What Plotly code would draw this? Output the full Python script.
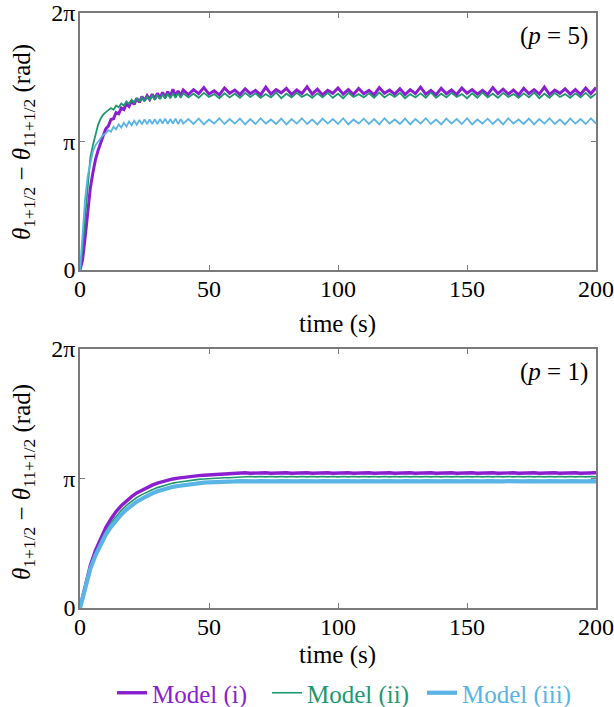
import plotly.graph_objects as go
import math

PI = math.pi

# ---------------- data: top panel (p = 5) ----------------
TIME_TOP = [0, 1, 2, 3, 4, 5, 6, 7, 8, 9, 10, 11, 12, 13, 14, 15, 16, 17, 18, 19, 20,
            21, 22, 23, 24, 25, 26, 27, 28, 29, 30, 31, 32, 33, 34, 35, 36, 37, 38, 39, 40,
            42, 44, 46, 48, 50, 52, 54, 56, 58, 60, 62, 64, 66, 68, 70, 72, 74, 76, 78, 80,
            82, 84, 86, 88, 90, 92, 94, 96, 98, 100, 102, 104, 106, 108, 110, 112, 114, 116, 118, 120,
            122, 124, 126, 128, 130, 132, 134, 136, 138, 140, 142, 144, 146, 148, 150, 152, 154, 156, 158, 160,
            162, 164, 166, 168, 170, 172, 174, 176, 178, 180, 182, 184, 186, 188, 190, 192, 194, 196, 198, 200]

TOP_MODEL_I = [0.00, 0.25, 0.80, 1.45, 2.00, 2.38, 2.70, 2.92, 3.12, 3.28, 3.45,
               3.52, 3.68, 3.70, 3.85, 3.82, 3.96, 3.92, 4.06, 4.00, 4.14,
               4.05, 4.20, 4.10, 4.24, 4.14, 4.26, 4.17, 4.30, 4.18, 4.32,
               4.20, 4.34, 4.22, 4.36, 4.24, 4.42, 4.25, 4.38, 4.26, 4.40,
               4.29, 4.41, 4.31, 4.46, 4.30, 4.38, 4.28, 4.45, 4.32, 4.40,
               4.29, 4.43, 4.31, 4.39, 4.28, 4.47, 4.30, 4.41, 4.33, 4.44,
               4.29, 4.40, 4.31, 4.48, 4.30, 4.42, 4.28, 4.39, 4.32, 4.45,
               4.30, 4.41, 4.29, 4.44, 4.31, 4.39, 4.28, 4.46, 4.32, 4.40,
               4.30, 4.43, 4.29, 4.41, 4.31, 4.47, 4.30, 4.39, 4.28, 4.44,
               4.31, 4.40, 4.29, 4.45, 4.32, 4.41, 4.30, 4.39, 4.29, 4.46,
               4.31, 4.42, 4.30, 4.40, 4.28, 4.44, 4.31, 4.41, 4.30, 4.47,
               4.29, 4.40, 4.32, 4.43, 4.30, 4.41, 4.29, 4.45, 4.31, 4.46]

TOP_MODEL_II = [0.00, 0.55, 1.30, 2.05, 2.75, 3.05, 3.30, 3.55, 3.70, 3.80, 3.86,
                3.90, 3.96, 3.92, 4.02, 3.98, 4.07, 4.02, 4.12, 4.06, 4.16,
                4.09, 4.19, 4.12, 4.22, 4.14, 4.24, 4.16, 4.26, 4.17, 4.28,
                4.18, 4.30, 4.19, 4.31, 4.20, 4.32, 4.21, 4.33, 4.21, 4.32,
                4.22, 4.31, 4.21, 4.33, 4.23, 4.30, 4.20, 4.32, 4.22, 4.31,
                4.21, 4.33, 4.23, 4.32, 4.21, 4.30, 4.22, 4.34, 4.20, 4.31,
                4.22, 4.33, 4.23, 4.30, 4.21, 4.32, 4.22, 4.33, 4.21, 4.31,
                4.20, 4.33, 4.23, 4.30, 4.22, 4.32, 4.21, 4.34, 4.22, 4.31,
                4.23, 4.33, 4.20, 4.30, 4.22, 4.32, 4.21, 4.34, 4.21, 4.31,
                4.22, 4.33, 4.23, 4.30, 4.20, 4.32, 4.21, 4.34, 4.22, 4.31,
                4.21, 4.33, 4.23, 4.30, 4.21, 4.32, 4.22, 4.34, 4.20, 4.31,
                4.21, 4.33, 4.23, 4.30, 4.21, 4.32, 4.22, 4.33, 4.21, 4.31]

TOP_MODEL_III = [0.00, 0.95, 1.75, 2.30, 2.65, 2.90, 3.05, 3.15, 3.22, 3.30, 3.34,
                 3.42, 3.38, 3.50, 3.44, 3.56, 3.48, 3.60, 3.51, 3.63, 3.54,
                 3.65, 3.55, 3.67, 3.56, 3.68, 3.57, 3.68, 3.57, 3.69, 3.57,
                 3.69, 3.58, 3.70, 3.57, 3.69, 3.58, 3.70, 3.57, 3.69, 3.58,
                 3.69, 3.57, 3.70, 3.56, 3.68, 3.58, 3.71, 3.57, 3.69, 3.58,
                 3.70, 3.56, 3.69, 3.57, 3.71, 3.58, 3.68, 3.57, 3.70, 3.56,
                 3.69, 3.58, 3.71, 3.57, 3.68, 3.56, 3.70, 3.58, 3.69, 3.57,
                 3.71, 3.56, 3.68, 3.58, 3.70, 3.57, 3.69, 3.56, 3.71, 3.58,
                 3.68, 3.57, 3.70, 3.56, 3.69, 3.58, 3.71, 3.57, 3.68, 3.56,
                 3.70, 3.58, 3.69, 3.57, 3.71, 3.56, 3.68, 3.58, 3.70, 3.57,
                 3.69, 3.56, 3.71, 3.58, 3.68, 3.57, 3.70, 3.56, 3.69, 3.58,
                 3.71, 3.57, 3.68, 3.56, 3.70, 3.58, 3.69, 3.57, 3.71, 3.58]

# ---------------- data: bottom panel (p = 1) ----------------
TIME_BOT = [0, 2, 4, 6, 8, 10, 12, 14, 16, 18, 20, 22, 24, 26, 28, 30, 32, 34, 36, 38, 40,
            42, 44, 46, 48, 50, 52, 54, 56, 58, 60, 62, 64, 66, 68, 70, 72, 74, 76, 78, 80,
            82, 84, 86, 88, 90, 92, 94, 96, 98, 100, 102, 104, 106, 108, 110, 112, 114, 116, 118, 120,
            122, 124, 126, 128, 130, 132, 134, 136, 138, 140, 142, 144, 146, 148, 150, 152, 154, 156, 158, 160,
            162, 164, 166, 168, 170, 172, 174, 176, 178, 180, 182, 184, 186, 188, 190, 192, 194, 196, 198, 200]

BOT_MODEL_I = [0.00, 0.55, 1.03, 1.40, 1.70, 1.95, 2.16, 2.34, 2.48, 2.60, 2.70,
               2.79, 2.86, 2.92, 2.98, 3.03, 3.07, 3.10, 3.13, 3.15, 3.17,
               3.19, 3.20, 3.21, 3.22, 3.23, 3.24, 3.24, 3.25, 3.25, 3.26,
               3.27, 3.28, 3.27, 3.28, 3.27, 3.28, 3.27, 3.28, 3.27, 3.28,
               3.27, 3.28, 3.27, 3.28, 3.27, 3.28, 3.27, 3.28, 3.27, 3.28,
               3.27, 3.28, 3.27, 3.28, 3.27, 3.28, 3.27, 3.28, 3.27, 3.28,
               3.27, 3.28, 3.27, 3.28, 3.27, 3.28, 3.27, 3.28, 3.27, 3.28,
               3.27, 3.28, 3.27, 3.28, 3.27, 3.28, 3.27, 3.28, 3.27, 3.28,
               3.27, 3.28, 3.27, 3.28, 3.27, 3.28, 3.27, 3.28, 3.27, 3.28,
               3.27, 3.28, 3.27, 3.28, 3.27, 3.28, 3.27, 3.28, 3.27, 3.28]

BOT_MODEL_II = [0.00, 0.53, 0.98, 1.33, 1.62, 1.86, 2.06, 2.23, 2.37, 2.49, 2.59,
                2.68, 2.75, 2.82, 2.87, 2.92, 2.96, 3.00, 3.03, 3.05, 3.07,
                3.09, 3.11, 3.12, 3.13, 3.14, 3.15, 3.15, 3.16, 3.16, 3.17,
                3.18, 3.18, 3.19, 3.18, 3.19, 3.18, 3.19, 3.18, 3.19, 3.18,
                3.19, 3.18, 3.19, 3.18, 3.19, 3.18, 3.19, 3.18, 3.19, 3.18,
                3.19, 3.18, 3.19, 3.18, 3.19, 3.18, 3.19, 3.18, 3.19, 3.18,
                3.19, 3.18, 3.19, 3.18, 3.19, 3.18, 3.19, 3.18, 3.19, 3.18,
                3.19, 3.18, 3.19, 3.18, 3.19, 3.18, 3.19, 3.18, 3.19, 3.18,
                3.19, 3.18, 3.19, 3.18, 3.19, 3.18, 3.19, 3.18, 3.19, 3.18,
                3.19, 3.18, 3.19, 3.18, 3.19, 3.18, 3.19, 3.18, 3.19, 3.18]

BOT_MODEL_III = [0.00, 0.52, 0.95, 1.28, 1.55, 1.78, 1.97, 2.13, 2.27, 2.39, 2.49,
                 2.58, 2.65, 2.72, 2.78, 2.83, 2.87, 2.91, 2.94, 2.96, 2.98,
                 3.00, 3.01, 3.03, 3.04, 3.05, 3.05, 3.06, 3.06, 3.07, 3.07,
                 3.08, 3.07, 3.08, 3.07, 3.08, 3.07, 3.08, 3.07, 3.08, 3.07,
                 3.08, 3.07, 3.08, 3.07, 3.08, 3.07, 3.08, 3.07, 3.08, 3.07,
                 3.08, 3.07, 3.08, 3.07, 3.08, 3.07, 3.08, 3.07, 3.08, 3.07,
                 3.08, 3.07, 3.08, 3.07, 3.08, 3.07, 3.08, 3.07, 3.08, 3.07,
                 3.08, 3.07, 3.08, 3.07, 3.08, 3.07, 3.08, 3.07, 3.08, 3.07,
                 3.08, 3.07, 3.08, 3.07, 3.08, 3.07, 3.08, 3.07, 3.08, 3.07,
                 3.08, 3.07, 3.08, 3.07, 3.08, 3.07, 3.08, 3.07, 3.08, 3.07]

SERIES_NAMES = ["Model (i)", "Model (ii)", "Model (iii)"]
COLORS = ["#8B1FCF", "#1E9870", "#5AB4E5"]
X_TICKS = [0, 50, 100, 150, 200]
Y_TICK_VALS = [0, PI, 2 * PI]
Y_TICK_TEXT = ["0", "π", "2π"]
PANEL_LABELS = ["(<i>p</i> = 5)", "(<i>p</i> = 1)"]

FONT = "Liberation Serif"
FS = 25
TFS = 24
AX = "#7a7a7a"

fig = go.Figure()

top_w = [3.0, 1.8, 1.8]
for name, ys, c, w in zip(SERIES_NAMES, [TOP_MODEL_I, TOP_MODEL_II, TOP_MODEL_III], COLORS, top_w):
    fig.add_trace(go.Scatter(x=TIME_TOP, y=ys, mode="lines", name=name,
                             line=dict(color=c, width=w), showlegend=False,
                             xaxis="x", yaxis="y"))

bot_w = [3.4, 1.6, 4.2]
for name, ys, c, w in zip(SERIES_NAMES, [BOT_MODEL_I, BOT_MODEL_II, BOT_MODEL_III], COLORS, bot_w):
    fig.add_trace(go.Scatter(x=TIME_BOT, y=ys, mode="lines",
                             name=f"<span style='color:{c}'>{name}</span>",
                             line=dict(color=c, width=w),
                             showlegend=True, xaxis="x2", yaxis="y2"))

axis_common = dict(showline=True, linecolor=AX, linewidth=1.5, mirror="ticks",
                   ticks="inside", ticklen=5, tickcolor=AX, tickwidth=1,
                   showgrid=False, zeroline=False, automargin=False,
                   ticklabeloverflow="allow",
                   tickfont=dict(family=FONT, size=TFS, color="black"))

top_dom = [(608 - 270) / 595, 1.0]
bot_dom = [0.0, (608 - 349) / 595]

fig.update_layout(
    template="none",
    width=614, height=707,
    margin=dict(l=80, r=18, t=13, b=99, autoexpand=False),
    paper_bgcolor="white", plot_bgcolor="white",
    font=dict(family=FONT, size=FS, color="black"),
    xaxis=dict(domain=[0, 1], range=[0, 200], tickvals=X_TICKS, anchor="y",
               ticklabelstandoff=-4, **axis_common),
    yaxis=dict(domain=top_dom, range=[0, 2 * PI], tickvals=Y_TICK_VALS, ticktext=Y_TICK_TEXT,
               anchor="x", ticklabelstandoff=-2, **axis_common),
    xaxis2=dict(domain=[0, 1], range=[0, 200], tickvals=X_TICKS, anchor="y2",
                ticklabelstandoff=-4, **axis_common),
    yaxis2=dict(domain=bot_dom, range=[0, 2 * PI], tickvals=Y_TICK_VALS, ticktext=Y_TICK_TEXT,
                anchor="x2", ticklabelstandoff=-2, **axis_common),
    legend=dict(orientation="h", xref="container", yref="container",
                x=112 / 614, xanchor="left", y=(707 - 693) / 707, yanchor="middle",
                font=dict(family=FONT, size=FS), itemwidth=30, entrywidth=110,
                bgcolor="rgba(0,0,0,0)"),
    showlegend=True,
)

ytitle = "<i>θ</i><sub>1+1/2</sub> − <i>θ</i><sub>11+1/2</sub> (rad)"
annos = []
for yc in [(608 - 142) / 595, (608 - 482) / 595]:
    annos.append(dict(text=ytitle, x=(23 - 80) / 516, y=yc, xref="paper", yref="paper",
                      textangle=-90, showarrow=False, xanchor="center", yanchor="middle",
                      font=dict(family=FONT, size=FS, color="black")))
for yc in [(608 - 324) / 595, (608 - 655) / 595]:
    annos.append(dict(text="time (s)", x=(337 - 80) / 516, y=yc, xref="paper", yref="paper",
                      showarrow=False, xanchor="center", yanchor="middle",
                      font=dict(family=FONT, size=FS, color="black")))
for lab, yc in zip(PANEL_LABELS, [(608 - 36) / 595, (608 - 372) / 595]):
    annos.append(dict(text=lab, x=(554 - 80) / 516, y=yc, xref="paper", yref="paper",
                      showarrow=False, xanchor="center", yanchor="middle",
                      font=dict(family=FONT, size=FS, color="black")))
fig.update_layout(annotations=annos)

fig.write_html("out.html", config={"displayModeBar": False},
               post_script="document.body.style.margin='0';document.body.style.padding='0';")
